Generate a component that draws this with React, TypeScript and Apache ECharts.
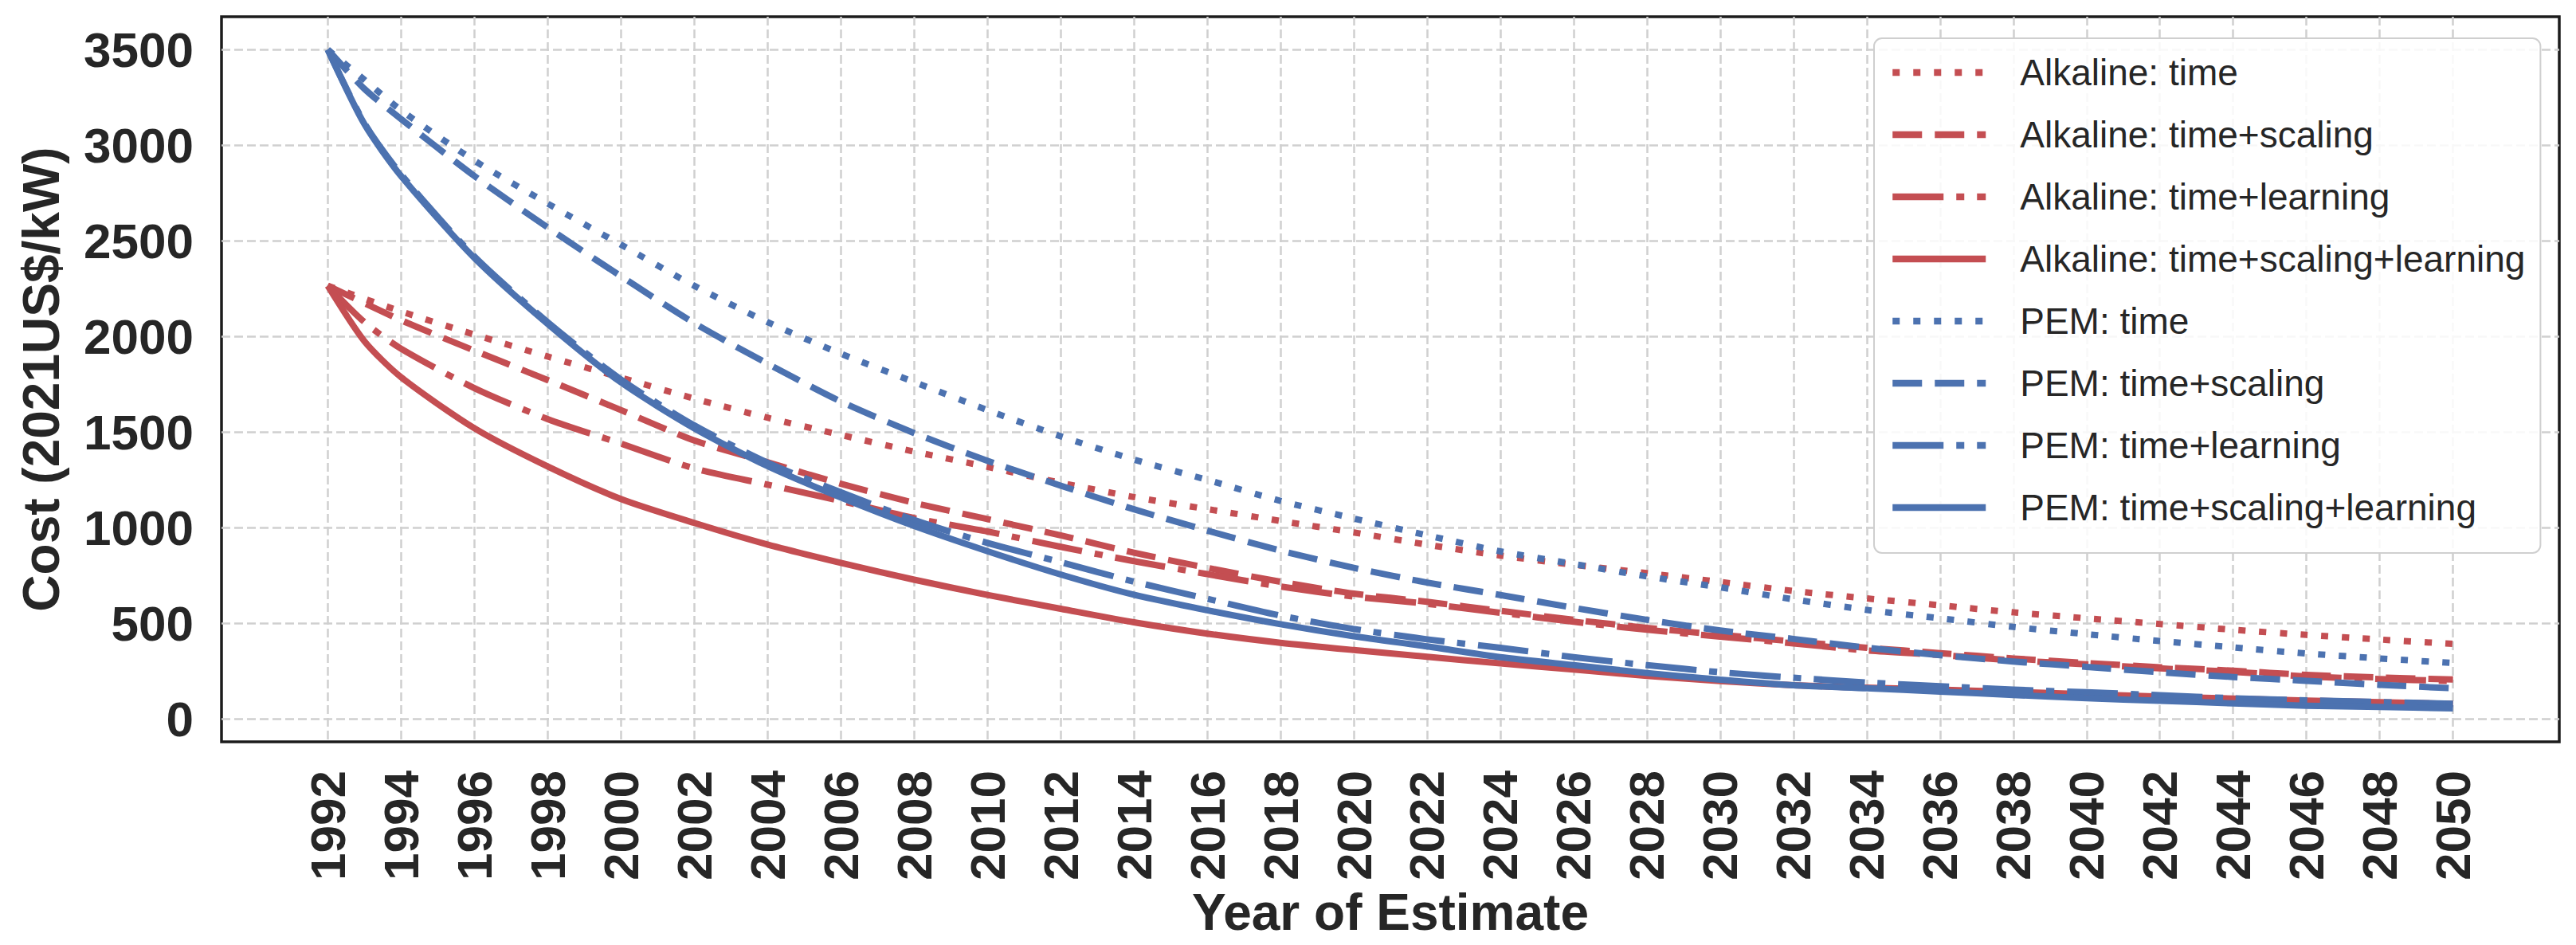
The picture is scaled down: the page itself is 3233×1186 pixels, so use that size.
import React, { useEffect, useRef } from "react";
import * as echarts from "echarts";

const YEARS = [1992, 1993, 1994, 1996, 1998, 2000, 2002, 2004, 2006, 2008, 2010, 2012, 2014, 2016, 2018, 2020, 2022, 2024, 2026, 2028, 2030, 2032, 2034, 2036, 2038, 2040, 2042, 2044, 2046, 2048, 2050];

const X_TICKS = [1992, 1994, 1996, 1998, 2000, 2002, 2004, 2006, 2008, 2010, 2012, 2014, 2016, 2018, 2020, 2022, 2024, 2026, 2028, 2030, 2032, 2034, 2036, 2038, 2040, 2042, 2044, 2046, 2048, 2050];
const Y_TICKS = [0, 500, 1000, 1500, 2000, 2500, 3000, 3500];

const ALK_TIME = [2265, null, 2131, 2010, 1895, 1785, 1675, 1575, 1485, 1398, 1318, 1235, 1160, 1097, 1035, 975, 911, 854, 806, 762, 716, 669, 630, 594, 557, 526, 496, 466, 439, 415, 392];
const ALK_SCALING = [2265, null, 2085, 1926, 1772, 1615, 1456, 1342, 1230, 1130, 1045, 960, 869, 790, 717, 655, 612, 565, 518, 476, 440, 405, 372, 344, 316, 292, 270, 252, 230, 216, 206];
const ALK_LEARNING = [2265, 2075, 1936, 1730, 1568, 1440, 1310, 1225, 1140, 1050, 980, 900, 825, 757, 692, 640, 602, 555, 508, 466, 430, 395, 358, 334, 306, 285, 264, 246, 222, 208, 198];
const ALK_ALL = [2265, 1975, 1787, 1520, 1320, 1150, 1025, 912, 816, 728, 648, 576, 505, 446, 398, 360, 325, 290, 258, 225, 198, 176, 163, 153, 141, 129, 117, 106, 96, 87, 78];
const PEM_TIME = [3500, 3342, 3183, 2920, 2695, 2480, 2265, 2075, 1910, 1762, 1615, 1478, 1356, 1250, 1140, 1048, 960, 876, 810, 745, 688, 625, 570, 526, 481, 443, 407, 374, 342, 316, 292];
const PEM_SCALING = [3500, 3295, 3137, 2839, 2570, 2315, 2070, 1858, 1660, 1495, 1350, 1220, 1096, 985, 880, 790, 713, 648, 581, 518, 462, 418, 372, 333, 300, 272, 244, 219, 199, 178, 160];
const PEM_LEARNING = [3500, 3115, 2848, 2418, 2075, 1775, 1535, 1340, 1185, 1040, 920, 820, 718, 628, 540, 470, 416, 372, 323, 281, 244, 215, 190, 171, 153, 139, 124, 108, 97, 88, 79];
const PEM_ALL = [3500, 3110, 2839, 2411, 2066, 1760, 1520, 1322, 1158, 1009, 877, 755, 649, 568, 495, 432, 379, 323, 281, 240, 205, 176, 160, 143, 125, 108, 95, 81, 69, 62, 55];

const SERIES_NAMES = [
  "Alkaline: time",
  "Alkaline: time+scaling",
  "Alkaline: time+learning",
  "Alkaline: time+scaling+learning",
  "PEM: time",
  "PEM: time+scaling",
  "PEM: time+learning",
  "PEM: time+scaling+learning",
];

const RED = "#C44E52";
const BLUE = "#4C72B0";
const TEXT = "#262626";
const FONT = "'Liberation Sans', Arial, Helvetica, sans-serif";

const DOTTED = [9, 17];
const DASHED = [37, 16];
const DASHDOT = [64, 16, 10, 16];

export default function App() {
  const ref = useRef<HTMLDivElement>(null);

  useEffect(() => {
    document.body.style.margin = "0";
    const chart = echarts.init(ref.current as HTMLDivElement, null, { renderer: "svg" });

    const seriesDefs: [string, (number | null)[], string, any][] = [
      [SERIES_NAMES[0], ALK_TIME, RED, DOTTED],
      [SERIES_NAMES[1], ALK_SCALING, RED, DASHED],
      [SERIES_NAMES[2], ALK_LEARNING, RED, DASHDOT],
      [SERIES_NAMES[3], ALK_ALL, RED, "solid"],
      [SERIES_NAMES[4], PEM_TIME, BLUE, DOTTED],
      [SERIES_NAMES[5], PEM_SCALING, BLUE, DASHED],
      [SERIES_NAMES[6], PEM_LEARNING, BLUE, DASHDOT],
      [SERIES_NAMES[7], PEM_ALL, BLUE, "solid"],
    ];

    const series = seriesDefs.map(([name, vals, color, dash], i) => ({
      name,
      type: "line",
      data: YEARS.map((y, j) => [y, vals[j]]).filter((p) => p[1] !== null),
      showSymbol: false,
      symbol: "none",
      smooth: 0.25,
      z: 3 + i,
      lineStyle: { color, width: 8, type: dash, cap: "butt", join: "round" },
      itemStyle: { color },
      emphasis: { disabled: true },
    }));

    const gridLine = { color: "#d0d0d0", width: 2.5, type: [11, 5] };

    chart.setOption({
      animation: false,
      backgroundColor: "#ffffff",
      textStyle: { fontFamily: FONT },
      grid: {
        left: 278,
        right: 21,
        top: 21,
        bottom: 255,
        show: true,
        borderColor: "#1c1c1c",
        borderWidth: 3.5,
        backgroundColor: "transparent",
      },
      legend: {
        orient: "vertical",
        left: 2352,
        top: 48,
        itemWidth: 117,
        itemHeight: 20,
        itemGap: 32,
        padding: [20, 19, 34, 19],
        backgroundColor: "rgba(255,255,255,0.85)",
        borderColor: "#cfcfcf",
        borderWidth: 2,
        borderRadius: 10,
        lineStyle: { width: 8.5 },
        itemStyle: { opacity: 0, borderWidth: 0, color: "transparent" },
        textStyle: {
          fontSize: 46,
          lineHeight: 46,
          color: TEXT,
          fontFamily: FONT,
          padding: [0, 0, 0, 38],
        },
        data: SERIES_NAMES,
      },
      xAxis: {
        type: "value",
        min: 1989.1,
        max: 2052.9,
        axisLine: { show: false },
        axisTick: { show: false, customValues: X_TICKS },
        axisLabel: {
          customValues: X_TICKS,
          rotate: 90,
          margin: 36,
          fontSize: 62,
          fontWeight: "bold",
          color: TEXT,
          fontFamily: FONT,
          formatter: (v: number) => String(v),
        },
        splitLine: { show: true, lineStyle: gridLine },
        name: "Year of Estimate",
        nameLocation: "middle",
        nameGap: 182,
        nameTextStyle: { fontSize: 64, fontWeight: "bold", color: TEXT, fontFamily: FONT },
      },
      yAxis: {
        type: "value",
        min: -120,
        max: 3672,
        axisLine: { show: false },
        axisTick: { show: false, customValues: Y_TICKS },
        axisLabel: {
          customValues: Y_TICKS,
          margin: 35,
          fontSize: 62,
          fontWeight: "bold",
          color: TEXT,
          fontFamily: FONT,
          formatter: (v: number) => String(v),
        },
        splitLine: { show: true, lineStyle: gridLine },
        name: "Cost (2021US$/kW)",
        nameLocation: "middle",
        nameGap: 194,
        nameTextStyle: { fontSize: 64, fontWeight: "bold", color: TEXT, fontFamily: FONT },
      },
      series,
    });

    return () => chart.dispose();
  }, []);

  return (
    <div
      ref={ref}
      style={{ position: "absolute", left: 0, top: 0, width: 3233, height: 1186, background: "#fff" }}
    />
  );
}
